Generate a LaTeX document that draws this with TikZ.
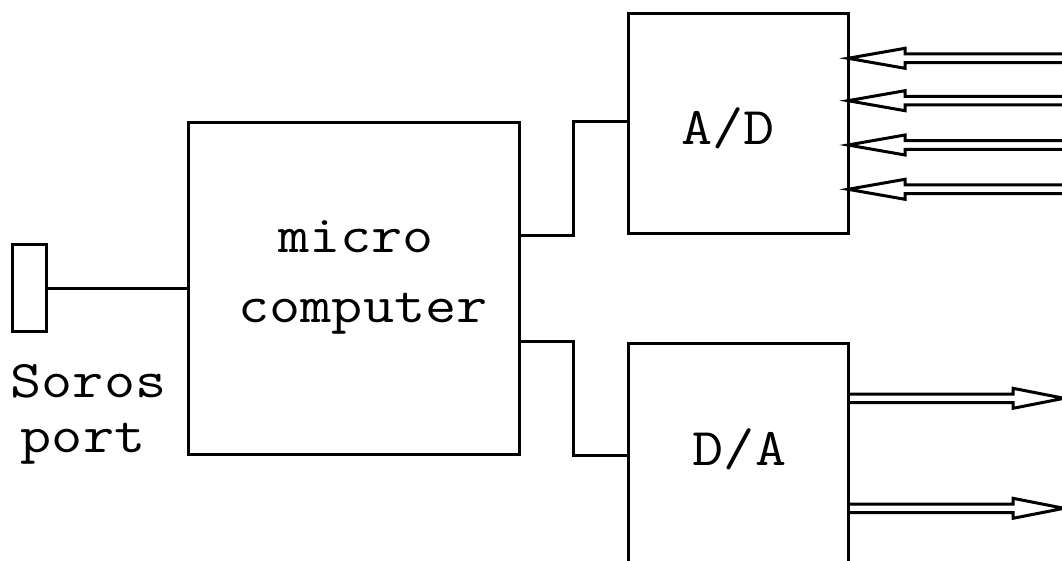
\documentclass[tikz,border=0pt]{standalone}
\usepackage{graphicx}
\usetikzlibrary{calc}

% hollow double-shaft arrow: #1 start, #2 tip, #3 signed head length
\newcommand\fatarrow[3]{%
  \draw[conn, miter limit=25]
    ($(#1)+(0,-4.3)$) -- ($(#2)+(#3,-4.3)$) -- ($(#2)+(#3,-10)$) -- (#2)
    -- ($(#2)+(#3,10)$) -- ($(#2)+(#3,4.3)$) -- ($(#1)+(0,4.3)$);}
% wide typewriter lettering
\newcommand\wtt[1]{\scalebox{1.14}[1]{#1}}

\begin{document}
\begin{tikzpicture}[x=1pt, y=-1pt,
  conn/.style={line width=3pt, line join=miter},
  block/.style={draw, line width=3pt, rectangle, inner sep=0pt},
  txt/.style={inner sep=0pt, anchor=base, font=\ttfamily\fontsize{53}{60}\selectfont}]
  \clip (0,0) rectangle (1062,561);

  % blocks
  \node[block, minimum width=34, minimum height=86] (port) at (29,288) {};
  \node[block, minimum width=331, minimum height=331] (mc) at (353.5,288.5) {};
  \node[block, minimum width=220, minimum height=220] (ad) at (738,124) {};
  \node[block, minimum width=220, minimum height=220] (da) at (738,453) {};

  % labels
  \node[txt] (tmicro) at (356,252) {\wtt{micro}};
  \node[txt] (tcomp) at (363,322) {\wtt{computer}};
  \node[txt] (tad) at (728,145) {\wtt{A/D}};
  \node[txt] (tda) at (739.5,465) {\wtt{D/A}};
  \node[txt] (tsoros) at (88.5,397) {\wtt{Soros}};
  \node[txt] (tport) at (83,452) {\wtt{port}};

  % bus connections
  \coordinate (jx) at (573,0);
  \draw[conn] (port.east) -- (port.east -| mc.west);
  \draw[conn] (ad.south -| mc.east) -- (ad.south -| jx) -- (mc.north -| jx) -- (mc.north -| ad.west);
  \draw[conn] (da.north -| mc.east) -- (da.north -| jx) -- (mc.south -| jx) -- (mc.south -| da.west);

  % analog inputs
  \foreach \k/\y in {1/58.3, 2/100.7, 3/145, 4/189.3} {
    \coordinate (in\k) at (1080,\y);
    \coordinate (int\k) at (848,\y);
    \fatarrow{in\k}{int\k}{57}
  }
  % analog outputs
  \foreach \k/\y in {1/398.3, 2/508.3} {
    \coordinate (out\k) at (1064,\y);
    \coordinate (outs\k) at (848,\y);
    \fatarrow{outs\k}{out\k}{-51}
  }
\end{tikzpicture}
\end{document}
